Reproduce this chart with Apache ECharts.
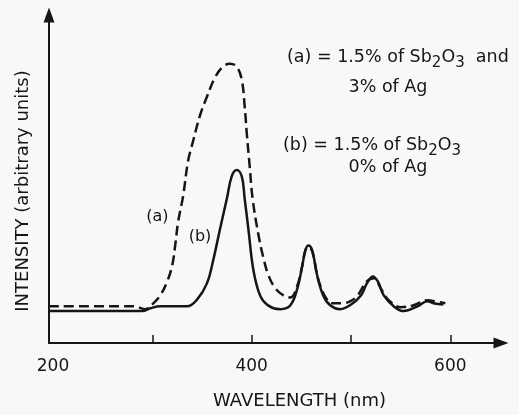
<!DOCTYPE html>
<html><head><meta charset="utf-8">
<script src="https://cdn.jsdelivr.net/npm/echarts@6/dist/echarts.min.js"></script>
<style>html,body{margin:0;padding:0;background:#f8f8f8}#c{width:519px;height:415px}</style>
</head><body><div id="c"></div>
<script>
// (a) 1.5% Sb2O3 + 3% Ag  (dashed)
const wavelengthA = [196,282,293,300,308,315,320,323,326,331,336,341,348,355,363,371,378,385,390,393,395,398,401,407,412,417,424,432,439,446,451,454,457,461,466,469,475,481,492,499,506,516,523,530,538,550,563,577,585,595];
const intensityA  = [13.1,13.1,12.1,13.8,17.0,22.0,27.7,34.8,43.3,52.5,65.0,72.1,81.3,88.0,94.8,98.7,99.8,98.7,94.1,84.5,75.3,63.2,51.5,38.3,30.2,24.1,19.5,17.0,16.3,20.6,27.7,33.0,34.4,32.7,24.1,20.6,16.0,14.2,14.2,14.9,16.7,22.0,23.1,19.5,15.3,12.8,13.5,15.3,14.9,14.2];
// (b) 1.5% Sb2O3 + 0% Ag  (solid)
const wavelengthB = [196,290,298,308,335,345,355,361,368,375,380,385,390,393,397,401,406,412,422,429,439,446,451,454,457,461,466,472,479,489,499,510,516,522,527,533,543,553,567,577,583,593];
const intensityB  = [11.4,11.4,12.4,13.1,13.1,15.5,21.3,29.1,40.5,51.5,59.6,61.8,59.6,51.5,39.8,27.7,19.5,14.9,12.4,12.1,13.5,19.5,27.7,33.0,34.8,33.0,24.1,17.0,13.5,12.1,13.5,17.0,21.3,23.8,22.0,17.0,13.1,11.4,13.1,14.9,14.2,13.8];

const xLabelValues = [200, 400, 600];
const xTickValues = [300, 400, 500, 600];
const curveLabelA = {text: '(a)', wavelength: 305, intensity: 45};
const curveLabelB = {text: '(b)', wavelength: 348, intensity: 38};
const legendA1 = '(a) = 1.5% of Sb{s|2}O{s|3}  and';
const legendA2 = '3% of Ag';
const legendB1 = '(b) = 1.5% of Sb{s|2}O{s|3}';
const legendB2 = '0% of Ag';
const xName = 'WAVELENGTH (nm)';
const yName = 'INTENSITY (arbitrary units)';

const INK = '#161616';
const FONT = 'DejaVu Sans';
const sub = {s: {fontSize: 15, fontFamily: FONT, lineHeight: 15, padding: [12, 0, 0, 0], fill: INK}};

const chart = echarts.init(document.getElementById('c'), null, {renderer: 'canvas'});
chart.setOption({
  backgroundColor: '#f8f8f8',
  animation: false,
  grid: {left: 49, right: 18, top: 15, bottom: 70},
  xAxis: {
    type: 'value', min: 196, max: 651,
    name: xName, nameLocation: 'middle', nameGap: 49,
    nameTextStyle: {fontFamily: FONT, fontSize: 18, color: INK, padding: [0, 0, 0, 49]},
    axisLine: {show: true, onZero: false, symbol: ['none', 'triangle'], symbolSize: [11, 15], lineStyle: {color: INK, width: 2}},
    axisTick: {show: true, inside: true, length: 8, customValues: xTickValues, lineStyle: {color: INK, width: 1.5}},
    axisLabel: {customValues: xLabelValues, fontFamily: FONT, fontSize: 17, color: INK, margin: 15},
    splitLine: {show: false}
  },
  yAxis: {
    type: 'value', min: 0, max: 117.2,
    name: yName, nameLocation: 'middle', nameRotate: 90, nameGap: 17,
    nameTextStyle: {fontFamily: FONT, fontSize: 18, color: INK, padding: [0, 24, 0, 0]},
    axisLine: {show: true, onZero: false, symbol: ['none', 'triangle'], symbolSize: [11, 15], lineStyle: {color: INK, width: 2}},
    axisTick: {show: false}, axisLabel: {show: false}, splitLine: {show: false}
  },
  series: [
    {
      name: '(a)', type: 'line', smooth: 0.4, symbol: 'none',
      data: wavelengthA.map((w, i) => [w, intensityA[i]]),
      lineStyle: {color: INK, width: 2.5, type: [10, 5]},
      markPoint: {symbol: 'circle', symbolSize: 0, silent: true,
        label: {show: true, position: 'inside', formatter: curveLabelA.text, fontFamily: FONT, fontSize: 16, color: INK},
        data: [{coord: [curveLabelA.wavelength, curveLabelA.intensity]}]}
    },
    {
      name: '(b)', type: 'line', smooth: 0.4, symbol: 'none',
      data: wavelengthB.map((w, i) => [w, intensityB[i]]),
      lineStyle: {color: INK, width: 2.5},
      markPoint: {symbol: 'circle', symbolSize: 0, silent: true,
        label: {show: true, position: 'inside', formatter: curveLabelB.text, fontFamily: FONT, fontSize: 16, color: INK},
        data: [{coord: [curveLabelB.wavelength, curveLabelB.intensity]}]}
    }
  ],
  graphic: [
    {type: 'text', x: 287, y: 57, style: {text: legendA1, rich: sub, font: '17.5px ' + FONT, fill: INK, lineHeight: 18, verticalAlign: 'middle', align: 'left'}},
    {type: 'text', x: 388, y: 87, style: {text: legendA2, font: '17.5px ' + FONT, fill: INK, verticalAlign: 'middle', align: 'center'}},
    {type: 'text', x: 283, y: 145, style: {text: legendB1, rich: sub, font: '17.5px ' + FONT, fill: INK, lineHeight: 18, verticalAlign: 'middle', align: 'left'}},
    {type: 'text', x: 388, y: 167, style: {text: legendB2, font: '17.5px ' + FONT, fill: INK, verticalAlign: 'middle', align: 'center'}}
  ]
});
</script></body></html>
